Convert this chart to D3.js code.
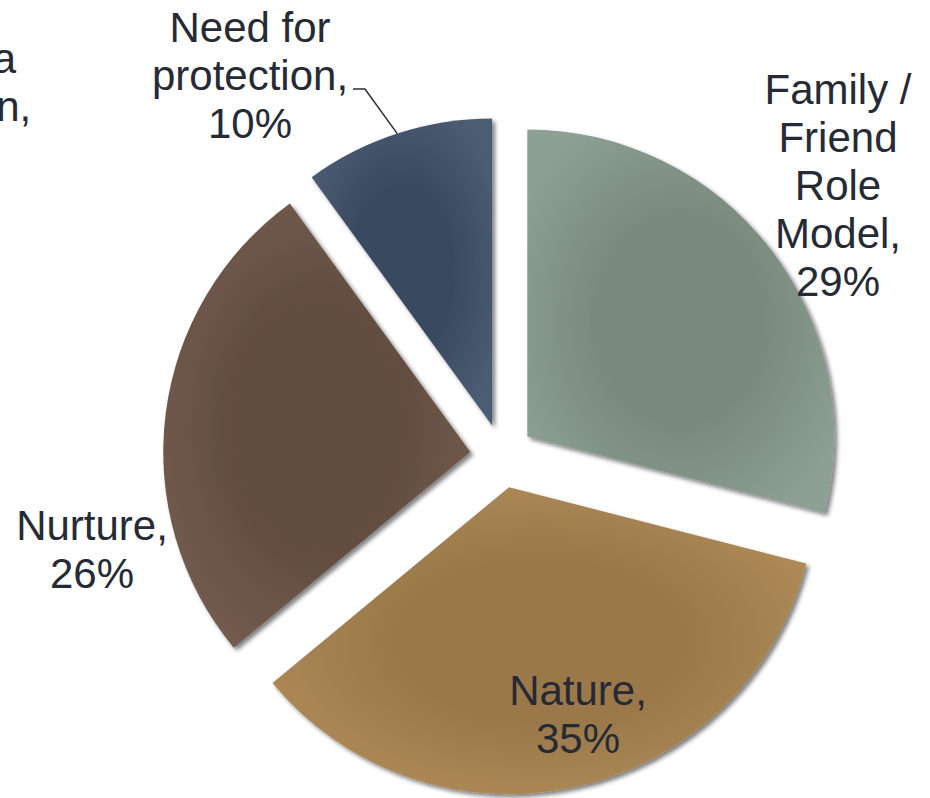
<!DOCTYPE html>
<html>
<head>
<meta charset="utf-8">
<script src="https://cdn.jsdelivr.net/npm/d3@7/dist/d3.min.js"></script>
<style>
  html, body { margin: 0; padding: 0; background: #ffffff; }
  svg { display: block; }
</style>
</head>
<body>
<svg id="chart" width="930" height="798"></svg>
<script>
// ---- data ----
const categories = ["Family / Friend Role Model", "Nature", "Nurture", "Need for protection", "Need for a Companion"];
const values = [29, 35, 26, 10, 0];
const colorsInner = ["#798a7d", "#9a784a", "#614d40", "#394960"];
const colorsOuter = ["#8da093", "#b18d59", "#755d4f", "#4b5d73"];

// ---- layout ----
const W = 930, H = 798;
const cx = 502, cy = 456, R = 307, explode = 32;
const fontSize = 42, lineH = 48;
// label lines and anchor (x, first baseline)
const labelLayout = [
  { lines: ["Family /", "Friend", "Role", "Model,"], x: 838, y: 104 },
  { lines: ["Nature,"], x: 578, y: 705 },
  { lines: ["Nurture,"], x: 92, y: 540 },
  { lines: ["Need for", "protection,"], x: 250, y: 42 },
  { lines: ["Need for a", "Companion,"], x: -82, y: 73 }
];

const svg = d3.select("#chart");
const defs = svg.append("defs");

const f = defs.append("filter").attr("id", "shadow")
  .attr("x", "-10%").attr("y", "-10%").attr("width", "125%").attr("height", "125%");
f.append("feDropShadow").attr("dx", 3).attr("dy", 3).attr("stdDeviation", 2)
  .attr("flood-color", "#000").attr("flood-opacity", 0.5);

colorsInner.forEach((c, i) => {
  const g = defs.append("radialGradient").attr("id", "grad" + i)
    .attr("cx", "50%").attr("cy", "50%").attr("r", "60%");
  g.append("stop").attr("offset", "0%").attr("stop-color", c);
  g.append("stop").attr("offset", "45%").attr("stop-color", c);
  g.append("stop").attr("offset", "100%").attr("stop-color", colorsOuter[i]);
});

const pie = d3.pie().sort(null).value(d => d).startAngle(0).endAngle(2 * Math.PI);
const arcs = pie(values);
const arc = d3.arc().innerRadius(0).outerRadius(R);

const mid = a => (a.startAngle + a.endAngle) / 2;
const off = a => [Math.sin(mid(a)) * explode, -Math.cos(mid(a)) * explode];

const gPie = svg.append("g").attr("transform", `translate(${cx},${cy})`);

gPie.selectAll("path.slice")
  .data(arcs.filter(a => a.value > 0))
  .enter().append("path")
  .attr("class", "slice")
  .attr("transform", a => `translate(${off(a)[0]},${off(a)[1]})`)
  .attr("d", arc)
  .attr("fill", (a) => `url(#grad${a.index})`)
  .attr("filter", "url(#shadow)");

// leader line for "Need for protection"
const needArc = arcs[3];
const o = off(needArc);
const edgePt = [cx + o[0] + Math.sin(mid(needArc)) * R, cy + o[1] - Math.cos(mid(needArc)) * R];
svg.append("path")
  .attr("d", d3.line()([[353, 89], [365, 89], edgePt]))
  .attr("fill", "none").attr("stroke", "#2a2d36").attr("stroke-width", 1.5);

// labels
const textColor = "#262a35";
labelLayout.forEach((L, i) => {
  const lines = L.lines.concat([values[i] + "%"]);
  const t = svg.append("text")
    .attr("text-anchor", "middle")
    .attr("font-family", "'Liberation Sans', Arial, sans-serif")
    .attr("font-size", fontSize)
    .attr("fill", textColor);
  lines.forEach((ln, j) => {
    t.append("tspan").attr("x", L.x).attr("y", L.y + j * lineH).text(ln);
  });
});
</script>
</body>
</html>
